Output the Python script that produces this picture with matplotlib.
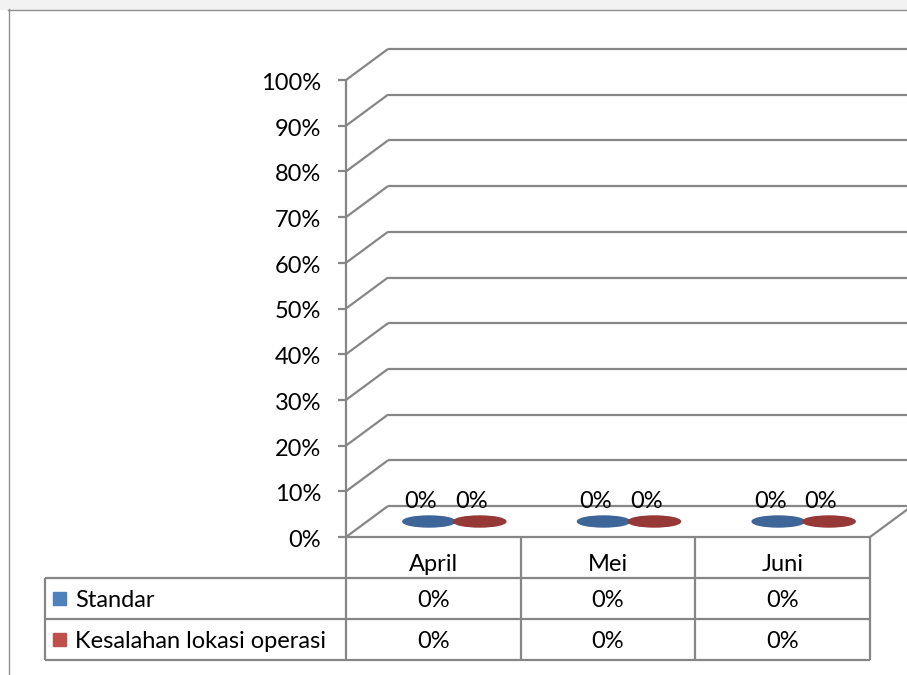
import matplotlib
matplotlib.use("Agg")
import matplotlib.pyplot as plt
from matplotlib import transforms
from matplotlib.patches import Ellipse, Rectangle
from matplotlib.lines import Line2D

plt.rcParams['font.family'] = ['Lato', 'DejaVu Sans']

categories = ["April", "Mei", "Juni"]
series_names = ["Standar", "Kesalahan lokasi operasi"]
standar = [0.0, 0.0, 0.0]
kesalahan = [0.0, 0.0, 0.0]
y_ticks = [0.0, 0.1, 0.2, 0.3, 0.4, 0.5, 0.6, 0.7, 0.8, 0.9, 1.0]
y_tick_labels = ["0%", "10%", "20%", "30%", "40%", "50%", "60%", "70%", "80%", "90%", "100%"]

face_colors = ["#4f81bd", "#c0504d"]
top_colors = ["#3d6597", "#953836"]
grid_color = "#868686"
FS = 17

W, H = 907, 675
fig = plt.figure(figsize=(W / 100, H / 100), dpi=100)
fig.patch.set_facecolor("white")

# pixel transform (origin top-left)
px = transforms.Affine2D().scale(1, -1).translate(0, H)

# frame / background
fig.patches.append(Rectangle((0, 0), W, 9, transform=px, color="#f2f2f2", zorder=0))
fig.lines.append(Line2D([8, W], [9.5, 9.5], transform=px, color="#8f8f8f", lw=1.0))
fig.lines.append(Line2D([8.5, 8.5], [9, H], transform=px, color="#8f8f8f", lw=1.0))

# main plot area: front plane
x0, x1, yb, yt = 346, 870, 537, 80
ax = fig.add_axes([x0 / W, (H - yb) / H, (x1 - x0) / W, (yb - yt) / H])
ax.set_xlim(0, len(categories))
ax.set_ylim(0, 1)
ax.axis("off")
pxy = 1 / (yb - yt)           # one pixel in y data units
pxx = len(categories) / (x1 - x0)  # one pixel in x data units

# depth offset in data units
ddx = 42 * pxx
ddy = 31 * pxy

kw = dict(color=grid_color, lw=1.6, clip_on=False, solid_capstyle="butt")
# back wall gridlines + side wall diagonals
for v in y_ticks:
    ax.plot([0 + ddx, len(categories) + ddx], [v + ddy, v + ddy], **kw)
    ax.plot([0, ddx], [v, v + ddy], **kw)
# floor right edge
ax.plot([len(categories), len(categories) + ddx], [0, ddy], **kw)
# front vertical axis
ax.plot([0, 0], [0, 1], **kw)
# floor front edge
ax.plot([0, len(categories)], [0, 0], **kw)

# ticks and tick labels
for v, lab in zip(y_ticks, y_tick_labels):
    ax.plot([-8 * pxx, 0], [v, v], **kw)
    ax.text(-25 * pxx, v - 10 * pxy, lab, ha="right", va="baseline", fontsize=FS, color="black")

# bars (cylinders) and labels
bar_w = 0.30
offsets = [-0.145, 0.145]
ell_h = 11 * pxy
for s, vals in enumerate([standar, kesalahan]):
    for i, v in enumerate(vals):
        cx = i + 0.5 + offsets[s] + ddx / 2
        base = ddy / 2
        if v > 0:
            ax.add_patch(Rectangle((cx - bar_w / 2, base), bar_w, v, color=face_colors[s],
                                   clip_on=False, zorder=3))
            ax.add_patch(Ellipse((cx, base), bar_w, ell_h, color=face_colors[s],
                                 clip_on=False, zorder=3))
        ax.add_patch(Ellipse((cx, base + v), bar_w, ell_h, color=top_colors[s],
                             clip_on=False, zorder=4))
        ax.text(cx - 8 * pxx, v + 29 * pxy, f"{v:.0%}", ha="center", va="baseline",
                fontsize=FS, color="black", zorder=5)

# data table
tbl = transforms.blended_transform_factory(ax.transData, px)
row_y = [537, 578, 619, 660]
left_x = 45
tkw = dict(color=grid_color, lw=1.6, solid_capstyle="butt")
for j in range(len(categories) + 1):
    fig.lines.append(Line2D([j, j], [row_y[0], row_y[-1]], transform=tbl, **tkw))
for yy in row_y[1:]:
    fig.lines.append(Line2D([left_x, x1], [yy, yy], transform=px, **tkw))
fig.lines.append(Line2D([left_x, left_x], [row_y[1], row_y[-1]], transform=px, **tkw))

for j, c in enumerate(categories):
    fig.text(j + 0.5, row_y[1] - 7, c, transform=tbl,
             ha="center", va="baseline", fontsize=FS)
for s, (name, vals) in enumerate(zip(series_names, [standar, kesalahan])):
    base_y = row_y[s + 2] - 12
    yc = (row_y[s + 1] + row_y[s + 2]) / 2
    fig.patches.append(Rectangle((53, yc - 6.5), 13, 13, transform=px, color=face_colors[s]))
    fig.text(75, base_y, name, transform=px, ha="left", va="baseline", fontsize=FS)
    for j, v in enumerate(vals):
        fig.text(j + 0.5, base_y, f"{v:.0%}", transform=tbl, ha="center", va="baseline", fontsize=FS)

fig.savefig("out.png", dpi=100)
